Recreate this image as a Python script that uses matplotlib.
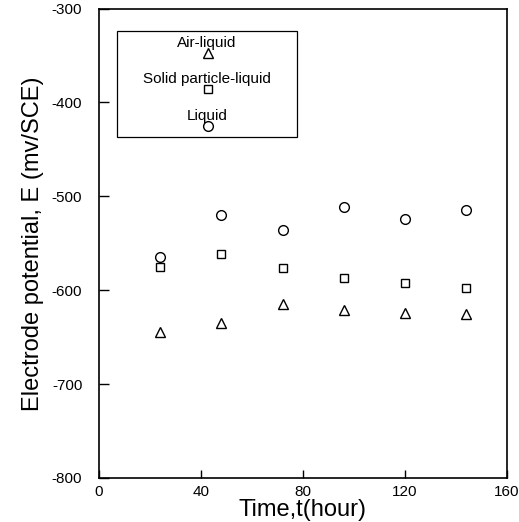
import matplotlib
matplotlib.use("Agg")
import matplotlib.pyplot as plt
from matplotlib.patches import Rectangle

plt.rcParams['font.family'] = ['Liberation Sans', 'DejaVu Sans']
plt.rcParams['axes.unicode_minus'] = False

# sampling times (hours)
time_h = [24, 48, 72, 96, 120, 144]

# electrode potential (mV vs SCE) for each exposure condition
air_liquid = [-645, -635, -615, -621, -624, -625]
solid_liquid = [-575, -561, -576, -587, -592, -598]
liquid = [-565, -520, -536, -511, -524, -515]

series = [
    ("Air-liquid", air_liquid, "^", 7.5),
    ("Solid particle-liquid", solid_liquid, "s", 6),
    ("Liquid", liquid, "o", 7),
]

fig = plt.figure(figsize=(5.19, 5.22), dpi=100)
ax = fig.add_axes([0.1908, 0.0843, 0.786, 0.8994])

for name, vals, mk, ms in series:
    ax.plot(time_h, vals, linestyle="none", marker=mk, markersize=ms,
            markerfacecolor="white", markeredgecolor="black", markeredgewidth=1.0)

ax.set_xlim(0, 160)
ax.set_ylim(-800, -300)
ax.set_xticks([0, 40, 80, 120, 160])
ax.set_yticks([-800, -700, -600, -500, -400, -300])
ax.tick_params(direction="in", length=7, width=1, labelsize=11, pad=12)
ax.tick_params(axis="x", pad=5, length=6)
for sp in ax.spines.values():
    sp.set_linewidth(1.2)

ax.set_xlabel("Time,t(hour)", fontsize=17, labelpad=0)
ax.set_ylabel("Electrode potential, E (mv/SCE)", fontsize=17, labelpad=6)

# hand-made key: label above its marker, inside a framed box
ax.add_patch(Rectangle((0.044, 0.726), 0.441, 0.226, transform=ax.transAxes,
                       fill=False, edgecolor="black", linewidth=0.9))
key_y = [(0.927, 0.906), (0.850, 0.829), (0.771, 0.750)]
for (name, vals, mk, ms), (ty, my) in zip(series, key_y):
    ax.text(0.265, ty, name, transform=ax.transAxes, ha="center", va="center", fontsize=11)
    ax.plot([0.267], [my], transform=ax.transAxes, marker=mk, markersize=ms,
            markerfacecolor="white", markeredgecolor="black", markeredgewidth=1.0)

fig.savefig("out.png", dpi=100)
